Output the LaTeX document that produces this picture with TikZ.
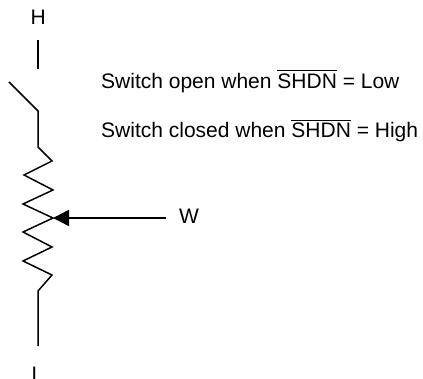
\documentclass[tikz,border=0pt]{standalone}
\usepackage{amsmath}
\usepackage{fontspec}
\setmainfont{Liberation Sans}
\usetikzlibrary{positioning,arrows.meta}
\newcommand{\shdn}{$\overline{\mbox{SHDN}}$}
\tikzset{
    lbl/.style={inner sep=0pt, anchor=base west, font=\fontsize{21}{25}\selectfont},
    wire/.style={line width=1.5pt, line join=miter}
}

\begin{document}
\begin{tikzpicture}[x=1pt,y=-1pt]
    \useasboundingbox (0,0) rectangle (423,379);
    \node[lbl] (high) at (30.5,25) {H};
    \node[lbl] (low) at (31.5,381) {L};
    \node[lbl] (wiper) at (179,224) {W};
    \node[lbl] (open) at (101,88.3) {Switch open when \shdn{} = Low};
    \node[lbl] (closed) at (101,137.5) {Switch closed when \shdn{} = High};
    \coordinate (top) at (38,40);
    \coordinate (gap) at (38,69);
    \coordinate (blade) at (9,82);
    \coordinate (pivot) at (38,111);
    \coordinate (tip) at (53,218);
    \coordinate (wend) at (166,218);
    \draw[wire] (top) -- (gap);
    \draw[wire] (blade) -- (pivot) -- (38,147) -- (52,161) -- (24,175) -- (53,190)
        -- (23,204) -- (tip) -- (23,232) -- (52,247) -- (23,261) -- (52,275)
        -- (38,291) -- (38,346);
    \draw[wire, -{Triangle[length=16pt,width=16pt]}] (wend) -- (tip);
\end{tikzpicture}
\end{document}
